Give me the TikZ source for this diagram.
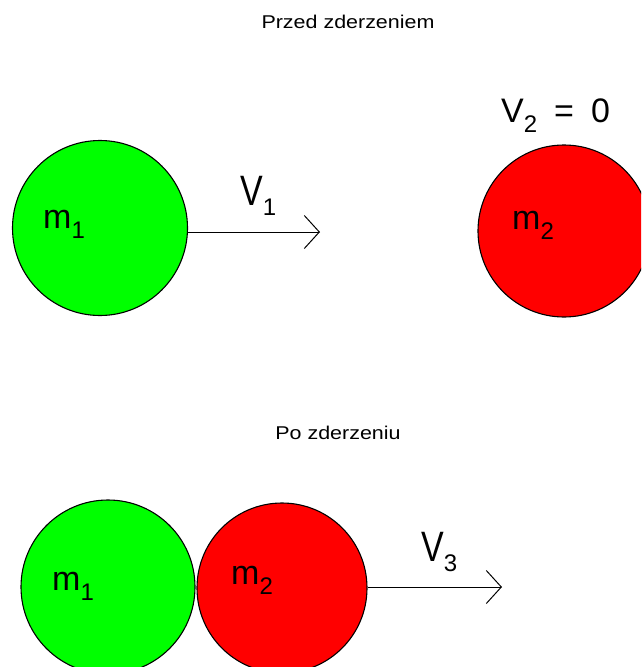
\documentclass[tikz,border=0pt]{standalone}
\usepackage{fontspec}
\setmainfont{Liberation Sans}
\usetikzlibrary{arrows.meta}
\definecolor{ballgreen}{RGB}{0,255,0}
\definecolor{ballred}{RGB}{255,0,0}
\newcommand\sublbl[2]{#1\raisebox{-10pt}{\fontsize{24}{24}\selectfont #2}}
\newcommand\vlbl[2]{\scalebox{1}[1.25]{#1}\raisebox{-10pt}{\fontsize{24}{24}\selectfont #2}}
\begin{document}
\begin{tikzpicture}[x=1pt,y=-1pt,
  ball/.style={circle,draw=black,line width=1.1pt,inner sep=0pt},
  greenball/.style={ball,fill=ballgreen},
  redball/.style={ball,fill=ballred},
  title/.style={font=\fontsize{18.5}{20}\selectfont,inner sep=0pt},
  lbl/.style={font=\fontsize{34}{34}\selectfont,anchor=base west,inner sep=0pt},
  vec/.style={line width=1pt,-{Straight Barb[length=15pt,width=33pt,line width=1pt]}}
]
\useasboundingbox (0,0) rectangle (641,667);
\clip (0,0) rectangle (641,667);

% titles
\node[title] (t1) at (348,22) {\scalebox{1.16}[1]{Przed zderzeniem}};
\node[title] (t2) at (338,433) {\scalebox{1.16}[1]{Po zderzeniu}};

% before collision
\node[greenball,minimum size=175pt] (g1) at (100,228) {};
\node[redball,minimum size=172pt] (r1) at (564,231) {};
\node[lbl] (m1a) at (43,228) {\sublbl{m}{1}};
\node[lbl] (m2a) at (512,229) {\sublbl{m}{2}};
\node[lbl] (v2) at (501,122) {\sublbl{V}{2}\hspace{17pt}=\hspace{17pt}0};
\coordinate (v1end) at (320,232);
\draw[vec] (g1.east |- v1end) -- (v1end);
\node[lbl] (v1) at (240,205) {\vlbl{V}{1}};

% after collision
\node[greenball,minimum size=174pt] (g2) at (108,587) {};
\node[redball,minimum size=170pt] (r2) at (282,588) {};
\node[lbl] (m1b) at (52,590) {\sublbl{m}{1}};
\node[lbl] (m2b) at (231,584) {\sublbl{m}{2}};
\coordinate (v3end) at (502,587);
\draw[vec] (r2.east |- v3end) -- (v3end);
\node[lbl] (v3) at (421,561) {\vlbl{V}{3}};
\end{tikzpicture}
\end{document}
